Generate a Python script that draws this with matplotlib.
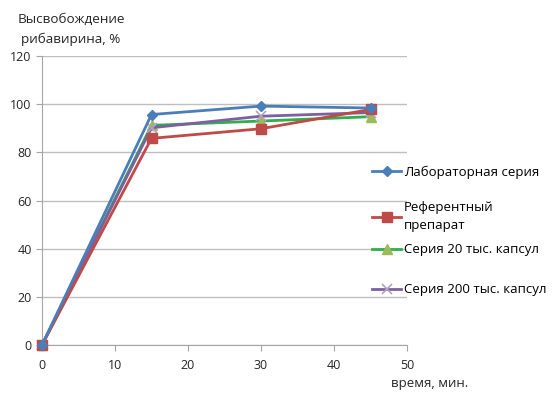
import matplotlib.pyplot as plt

plt.rcParams['font.family'] = ['Open Sans', 'DejaVu Sans']

time = [0, 15, 30, 45]
lab = [0, 95.7, 99.2, 98.4]
ref = [0, 85.8, 89.8, 97.8]
s20 = [0, 91.2, 93.0, 94.8]
s200 = [0, 90.2, 95.0, 96.5]

labels = ["Лабораторная серия", "Референтный\nпрепарат",
          "Серия 20 тыс. капсул", "Серия 200 тыс. капсул"]

fig = plt.figure(figsize=(5.55, 3.96), dpi=100)
ax = fig.add_axes([42 / 555, 1 - 345 / 396, 365 / 555, 289 / 396])

h1, = ax.plot(time, lab, color='#4A7EBB', lw=2, marker='D', ms=5,
              mfc='#4A7EBB', mec='#4A7EBB', zorder=5, clip_on=False)
h2, = ax.plot(time, ref, color='#BE4B48', lw=2, marker='s', ms=7,
              mfc='#BE4B48', mec='#BE4B48', zorder=4, clip_on=False)
h3, = ax.plot(time, s20, color='#2DB04A', lw=2, marker='^', ms=7,
              mfc='#9BBB59', mec='#9BBB59', zorder=3, clip_on=False)
h4, = ax.plot(time, s200, color='#7D60A0', lw=2, marker='x', ms=7,
              mec='#B3A2C7', mew=1.2, zorder=3, clip_on=False)

ax.set_xlim(0, 50)
ax.set_ylim(0, 120)
ax.set_xticks(range(0, 51, 10))
ax.set_yticks(range(0, 121, 20))
ax.yaxis.grid(True, color='#BFBFBF', lw=1)
ax.set_axisbelow(True)
for s in ['top', 'right']:
    ax.spines[s].set_visible(False)
for s in ['left', 'bottom']:
    ax.spines[s].set_color('#A6A6A6')
ax.tick_params(axis='both', colors='#A6A6A6', labelcolor='#262626',
               labelsize=9, length=4)
ax.tick_params(axis='x', pad=6)

fig.text(71 / 555, 1 - 29 / 396, "Высвобождение\nрибавирина, %",
         ha='center', va='center', fontsize=9.7, color='#262626',
         linespacing=1.65)
fig.text(430 / 555, 1 - 383 / 396, "время, мин.", ha='center', va='center',
         fontsize=9.5, color='#262626')

# one legend per entry so the uneven spacing of the original is kept
ys = [172, 217, 250, 290]
for h, lbl, y in zip([h1, h2, h3, h4], labels, ys):
    leg = fig.legend([h], [lbl], loc='center left',
                     bbox_to_anchor=(372 / 555, 1 - y / 396), frameon=False,
                     fontsize=9.5, handlelength=2.2, handletextpad=0.2,
                     borderaxespad=0, borderpad=0)
    for t in leg.get_texts():
        t.set_linespacing(1.5)

fig.savefig('out.png', dpi=100)
